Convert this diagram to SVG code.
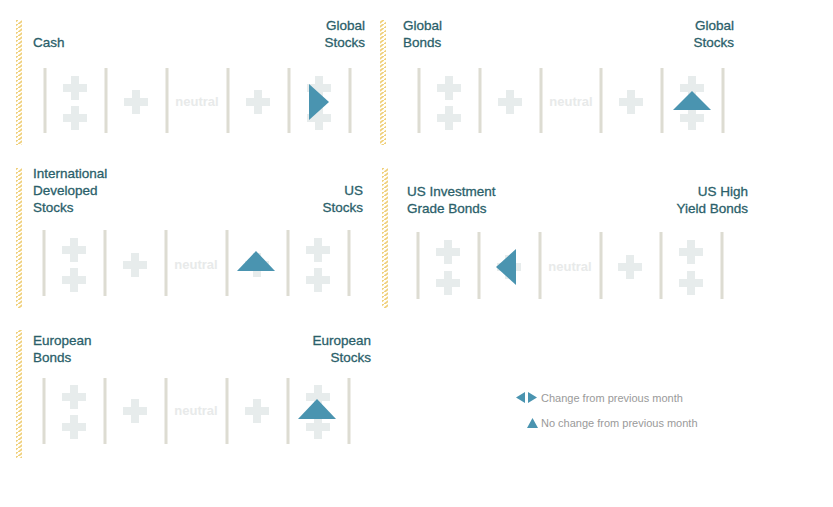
<svg xmlns="http://www.w3.org/2000/svg" width="833" height="507" viewBox="0 0 833 507">
<defs>
<pattern id="h" width="6" height="4" patternUnits="userSpaceOnUse"><path d="M-1,5 L7,-1" stroke="#f0d07a" stroke-width="1.8"/></pattern>
<path id="p" d="M-4,-12h8v8h8v8h-8v8h-8v-8h-8v-8h8z" fill="#e7ecec"/>
</defs>
<style>
.t{font-family:"Liberation Sans",Arial,sans-serif;font-size:13.5px;fill:#2b5f6a;stroke:#2b5f6a;stroke-width:0.3}
.r{text-anchor:end}
.n{font-family:"Liberation Sans",Arial,sans-serif;font-size:13px;font-weight:bold;fill:#e8eaea;text-anchor:middle}
.d{stroke:#dddcd2;stroke-width:3}
.a{fill:#4a94b0}
.l{font-family:"Liberation Sans",Arial,sans-serif;font-size:11px;fill:#9a9a9a}
</style>
<rect x="16" y="20" width="6" height="125" fill="url(#h)"/>
<rect x="380" y="20" width="6" height="125" fill="url(#h)"/>
<rect x="16" y="168" width="6" height="140" fill="url(#h)"/>
<rect x="382" y="168" width="6" height="140" fill="url(#h)"/>
<rect x="16" y="330" width="6" height="128" fill="url(#h)"/>

<g id="panel1">
<text class="t" x="33" y="47">Cash</text>
<text class="t r" x="365" y="30">Global</text><text class="t r" x="365" y="47">Stocks</text>
<g class="d"><path d="M45,68V133M106,68V133M167,68V133M228,68V133M289,68V133M350,68V133"/></g>
<use href="#p" x="75" y="88"/><use href="#p" x="75" y="118"/><use href="#p" x="136" y="102"/>
<text class="n" x="197" y="106">neutral</text>
<use href="#p" x="258" y="102"/><use href="#p" x="319" y="88"/><use href="#p" x="319" y="118"/>
<path class="a" d="M309,84L329,102L309,120z"/>
</g>
<g id="panel2">
<text class="t" x="403" y="30">Global</text><text class="t" x="403" y="47">Bonds</text>
<text class="t r" x="734" y="30">Global</text><text class="t r" x="734" y="47">Stocks</text>
<g class="d"><path d="M419,68V133M480,68V133M541,68V133M601,68V133M662,68V133M723,68V133"/></g>
<use href="#p" x="449" y="88"/><use href="#p" x="449" y="118"/><use href="#p" x="510" y="102"/>
<text class="n" x="571" y="106">neutral</text>
<use href="#p" x="631" y="102"/><use href="#p" x="692" y="88"/><use href="#p" x="692" y="118"/>
<path class="a" d="M673,110L692,91L711,110z"/>
</g>
<g id="panel3">
<text class="t" x="33" y="178">International</text><text class="t" x="33" y="195">Developed</text><text class="t" x="33" y="212">Stocks</text>
<text class="t r" x="363" y="195">US</text><text class="t r" x="363" y="212">Stocks</text>
<g class="d"><path d="M44,230V296M105,230V296M166,230V296M227,230V296M288,230V296M349,230V296"/></g>
<use href="#p" x="74" y="250"/><use href="#p" x="74" y="280"/><use href="#p" x="135" y="265"/>
<text class="n" x="196" y="269">neutral</text>
<use href="#p" x="257" y="265"/><use href="#p" x="318" y="250"/><use href="#p" x="318" y="280"/>
<path class="a" d="M237,271L256,251L275,271z"/>
</g>
<g id="panel4">
<text class="t" x="407" y="196">US Investment</text><text class="t" x="407" y="213">Grade Bonds</text>
<text class="t r" x="748" y="196">US High</text><text class="t r" x="748" y="213">Yield Bonds</text>
<g class="d"><path d="M418,232V299M479,232V299M540,232V299M601,232V299M661,232V299M722,232V299"/></g>
<use href="#p" x="448" y="252"/><use href="#p" x="448" y="283"/><use href="#p" x="509" y="267"/>
<text class="n" x="570" y="271">neutral</text>
<use href="#p" x="630" y="267"/><use href="#p" x="691" y="252"/><use href="#p" x="691" y="283"/>
<path class="a" d="M516,249L496,267L516,285z"/>
</g>
<g id="panel5">
<text class="t" x="33" y="345">European</text><text class="t" x="33" y="362">Bonds</text>
<text class="t r" x="371" y="345">European</text><text class="t r" x="371" y="362">Stocks</text>
<g class="d"><path d="M44,378V444M105,378V444M166,378V444M227,378V444M288,378V444M349,378V444"/></g>
<use href="#p" x="74" y="397"/><use href="#p" x="74" y="427"/><use href="#p" x="135" y="411"/>
<text class="n" x="196" y="415">neutral</text>
<use href="#p" x="257" y="411"/><use href="#p" x="318" y="397"/><use href="#p" x="318" y="427"/>
<path class="a" d="M298,419L317,399L336,419z"/>
</g>
<g id="legend">
<path class="a" d="M525,392L516,397.5L525,403zM528,392L537,397.5L528,403zM527,428L532.5,418L538,428z"/>
<text class="l" x="541" y="402">Change from previous month</text>
<text class="l" x="541" y="427">No change from previous month</text>
</g>
<g id="connectors"/>
</svg>
